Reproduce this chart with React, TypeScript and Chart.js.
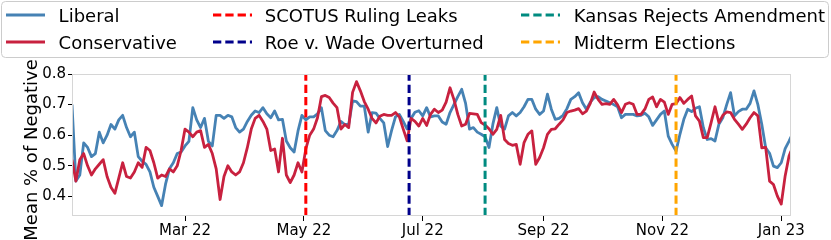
import React, { useEffect, useRef } from 'react';
import { Chart, registerables } from 'chart.js';

Chart.register(...registerables);

// Day index: 0 = 1 Jan 2022. Samples every second day, plus the last day shown.
const DAYS: number[] = [...Array.from({ length: 185 }, (_, i) => 1 + 2 * i), 370];

const LIBERAL: number[] = [
  0.70, 0.45, 0.47, 0.575, 0.56, 0.53, 0.54, 0.61, 0.575, 0.60,
  0.635, 0.62, 0.65, 0.665, 0.625, 0.595, 0.61, 0.53, 0.515, 0.505,
  0.48, 0.43, 0.40, 0.37, 0.44, 0.49, 0.51, 0.54, 0.545, 0.565,
  0.58, 0.69, 0.65, 0.625, 0.655, 0.58, 0.565, 0.665, 0.665, 0.655,
  0.665, 0.66, 0.625, 0.61, 0.62, 0.645, 0.665, 0.679, 0.674, 0.69,
  0.67, 0.657, 0.679, 0.65, 0.652, 0.581, 0.559, 0.545, 0.614, 0.665,
  0.65, 0.66, 0.66, 0.67, 0.69, 0.615, 0.60, 0.595, 0.615, 0.645,
  0.635, 0.635, 0.712, 0.71, 0.695, 0.695, 0.61, 0.674, 0.672, 0.655,
  0.64, 0.563, 0.615, 0.66, 0.668, 0.645, 0.62, 0.655, 0.675, 0.68,
  0.663, 0.69, 0.66, 0.663, 0.663, 0.643, 0.636, 0.674, 0.70, 0.726,
  0.75, 0.704, 0.62, 0.625, 0.61, 0.603, 0.595, 0.56, 0.636, 0.69,
  0.63, 0.62, 0.663, 0.674, 0.663, 0.674, 0.693, 0.717, 0.717, 0.685,
  0.668, 0.679, 0.734, 0.685, 0.652, 0.655, 0.665, 0.687, 0.717, 0.726,
  0.739, 0.706, 0.685, 0.708, 0.723, 0.726, 0.717, 0.712, 0.706, 0.70,
  0.693, 0.657, 0.668, 0.668, 0.668, 0.663, 0.665, 0.672, 0.66, 0.632,
  0.65, 0.668, 0.679, 0.597, 0.57, 0.548, 0.603, 0.652, 0.685, 0.677,
  0.688, 0.693, 0.625, 0.586, 0.589, 0.581, 0.636, 0.657, 0.70, 0.739,
  0.663, 0.677, 0.685, 0.685, 0.704, 0.745, 0.70, 0.636, 0.559, 0.541,
  0.499, 0.494, 0.51, 0.556, 0.581, 0.595,
];

const CONSERVATIVE: number[] = [
  0.52, 0.45, 0.52, 0.54, 0.50, 0.47, 0.49, 0.505, 0.52, 0.465,
  0.43, 0.41, 0.46, 0.51, 0.465, 0.46, 0.48, 0.51, 0.495, 0.56,
  0.55, 0.51, 0.46, 0.47, 0.465, 0.49, 0.48, 0.50, 0.55, 0.62,
  0.61, 0.595, 0.61, 0.615, 0.56, 0.57, 0.54, 0.49, 0.39, 0.465,
  0.50, 0.48, 0.47, 0.48, 0.51, 0.56, 0.62, 0.655, 0.665, 0.645,
  0.62, 0.55, 0.555, 0.48, 0.59, 0.47, 0.445, 0.47, 0.51, 0.48,
  0.555, 0.60, 0.62, 0.657, 0.726, 0.73, 0.723, 0.705, 0.69, 0.62,
  0.635, 0.625, 0.74, 0.775, 0.745, 0.71, 0.685, 0.655, 0.64, 0.662,
  0.668, 0.665, 0.665, 0.674, 0.66, 0.62, 0.582, 0.655, 0.645, 0.63,
  0.655, 0.632, 0.668, 0.685, 0.674, 0.682, 0.708, 0.755, 0.717, 0.668,
  0.63, 0.636, 0.671, 0.67, 0.668, 0.641, 0.633, 0.621, 0.603, 0.619,
  0.665, 0.586, 0.573, 0.567, 0.57, 0.505, 0.576, 0.603, 0.614, 0.505,
  0.527, 0.559, 0.603, 0.619, 0.621, 0.636, 0.65, 0.674, 0.679, 0.682,
  0.687, 0.67, 0.679, 0.704, 0.741, 0.717, 0.701, 0.703, 0.701, 0.717,
  0.699, 0.674, 0.701, 0.706, 0.701, 0.668, 0.668, 0.685, 0.717, 0.725,
  0.693, 0.717, 0.708, 0.668, 0.701, 0.703, 0.723, 0.704, 0.717, 0.728,
  0.663, 0.646, 0.592, 0.592, 0.641, 0.693, 0.641, 0.665, 0.676, 0.674,
  0.652, 0.636, 0.619, 0.636, 0.657, 0.674, 0.663, 0.559, 0.56, 0.45,
  0.439, 0.401, 0.375, 0.467, 0.532, 0.548,
];

const TICK_DAYS: number[] = [59, 120, 181, 243, 304, 365];
const TICK_LABELS: string[] = ['Mar 22', 'May 22', 'Jul 22', 'Sep 22', 'Nov 22', 'Jan 23'];
const Y_TICKS: number[] = [0.4, 0.5, 0.6, 0.7, 0.8];

const EVENT_NAMES: string[] = ['SCOTUS Ruling Leaks', 'Roe v. Wade Overturned', 'Kansas Rejects Amendment', 'Midterm Elections'];
const EVENT_DAYS: number[] = [121, 174, 213, 311];
const EVENT_COLORS: string[] = ['#ff0000', '#00008b', '#008b80', '#ffa500'];

const SERIES_NAMES: string[] = ['Liberal', 'Conservative'];
const SERIES_COLORS: string[] = ['#4682b4', '#c8213f'];
const Y_TITLE = 'Mean % of Negative';

const FONT = '"DejaVu Sans", sans-serif';
const DASH = [8.3, 4];

const overlayPlugin = {
  id: 'overlay',
  afterDatasetsDraw(chart: any) {
    const { ctx, chartArea, scales } = chart;
    ctx.save();
    ctx.lineWidth = 3;
    ctx.setLineDash(DASH);
    EVENT_DAYS.forEach((d, i) => {
      const x = scales.x.getPixelForValue(d);
      ctx.strokeStyle = EVENT_COLORS[i];
      ctx.beginPath();
      ctx.moveTo(x, chartArea.bottom);
      ctx.lineTo(x, chartArea.top);
      ctx.stroke();
    });
    ctx.restore();
  },
  afterDraw(chart: any) {
    const { ctx, chartArea } = chart;
    ctx.save();
    // frame
    ctx.strokeStyle = '#d6d6d6';
    ctx.lineWidth = 1;
    ctx.strokeRect(chartArea.left + 0.5, chartArea.top + 0.5, chartArea.right - chartArea.left - 1, chartArea.bottom - chartArea.top - 1);

    // y title
    ctx.save();
    ctx.translate(37, 150);
    ctx.rotate(-Math.PI / 2);
    ctx.font = `18px ${FONT}`;
    ctx.fillStyle = '#000';
    ctx.textAlign = 'center';
    ctx.textBaseline = 'alphabetic';
    ctx.fillText(Y_TITLE, 0, 0);
    ctx.restore();

    // legend
    ctx.beginPath();
    if ((ctx as any).roundRect) (ctx as any).roundRect(1.5, 1.5, 827, 56, 4);
    else ctx.rect(1.5, 1.5, 827, 56);
    ctx.fillStyle = 'rgba(255,255,255,0.9)';
    ctx.fill();
    ctx.strokeStyle = '#cccccc';
    ctx.lineWidth = 1;
    ctx.stroke();

    const items = [
      ...SERIES_NAMES.map((n, i) => ({ name: n, color: SERIES_COLORS[i], dashed: false })),
      ...EVENT_NAMES.map((n, i) => ({ name: n, color: EVENT_COLORS[i], dashed: true })),
    ];
    const colHandle = [6, 213, 521];
    const colText = [58.6, 264.8, 573.8];
    const rowLine = [15, 42];
    const rowBase = [21.6, 48.8];
    ctx.font = `18px ${FONT}`;
    ctx.textAlign = 'left';
    ctx.textBaseline = 'alphabetic';
    items.forEach((it, i) => {
      const col = Math.floor(i / 2);
      const row = i % 2;
      ctx.strokeStyle = it.color;
      ctx.lineWidth = 3;
      ctx.setLineDash(it.dashed ? DASH : []);
      ctx.beginPath();
      ctx.moveTo(colHandle[col], rowLine[row]);
      ctx.lineTo(colHandle[col] + 39, rowLine[row]);
      ctx.stroke();
      ctx.setLineDash([]);
      ctx.fillStyle = '#000';
      ctx.fillText(it.name, colText[col], rowBase[row]);
    });
    ctx.restore();
  },
};

export default function App() {
  const ref = useRef<HTMLCanvasElement | null>(null);
  useEffect(() => {
    document.body.style.margin = '0';
    const canvas = ref.current;
    if (!canvas) return;
    const chart = new Chart(canvas, {
      type: 'line',
      data: {
        datasets: [
          {
            label: SERIES_NAMES[0],
            data: DAYS.map((d, i) => ({ x: d, y: LIBERAL[i] })),
            borderColor: SERIES_COLORS[0],
            borderWidth: 2.8,
            pointRadius: 0,
            tension: 0,
            borderJoinStyle: 'round',
            order: 2,
          },
          {
            label: SERIES_NAMES[1],
            data: DAYS.map((d, i) => ({ x: d, y: CONSERVATIVE[i] })),
            borderColor: SERIES_COLORS[1],
            borderWidth: 2.8,
            pointRadius: 0,
            tension: 0,
            borderJoinStyle: 'round',
            order: 1,
          },
        ],
      },
      options: {
        animation: false,
        responsive: false,
        devicePixelRatio: 1,
        layout: { padding: { top: 74, right: 40, left: 0, bottom: 0 } },
        plugins: { legend: { display: false }, tooltip: { enabled: false } },
        events: [],
        scales: {
          x: {
            type: 'linear',
            min: 1,
            max: 370,
            afterBuildTicks: (s: any) => {
              s.ticks = TICK_DAYS.map((v) => ({ value: v }));
            },
            afterFit: (s: any) => {
              s.height = 24;
            },
            ticks: {
              autoSkip: false,
              maxRotation: 0,
              padding: 1,
              color: '#000',
              font: { family: FONT, size: 15 },
              callback: (v: any) => {
                const i = TICK_DAYS.indexOf(Number(v));
                return i >= 0 ? TICK_LABELS[i] : '';
              },
            },
            grid: { display: true, drawOnChartArea: false, drawTicks: true, tickLength: 5, tickColor: '#000', tickWidth: 1 },
            border: { display: false },
          },
          y: {
            type: 'linear',
            min: 0.336,
            max: 0.8,
            afterBuildTicks: (s: any) => {
              s.ticks = Y_TICKS.map((v) => ({ value: v }));
            },
            afterFit: (s: any) => {
              s.width = 72;
            },
            ticks: {
              padding: 2,
              color: '#000',
              font: { family: FONT, size: 15 },
              callback: (v: any) => Number(v).toFixed(1),
            },
            grid: { display: true, drawOnChartArea: false, drawTicks: true, tickLength: 4, tickColor: '#000', tickWidth: 1 },
            border: { display: false },
          },
        },
      } as any,
      plugins: [overlayPlugin],
    });
    return () => chart.destroy();
  }, []);
  return <canvas ref={ref} width={831} height={240} style={{ display: 'block', width: 831, height: 240 }} />;
}
